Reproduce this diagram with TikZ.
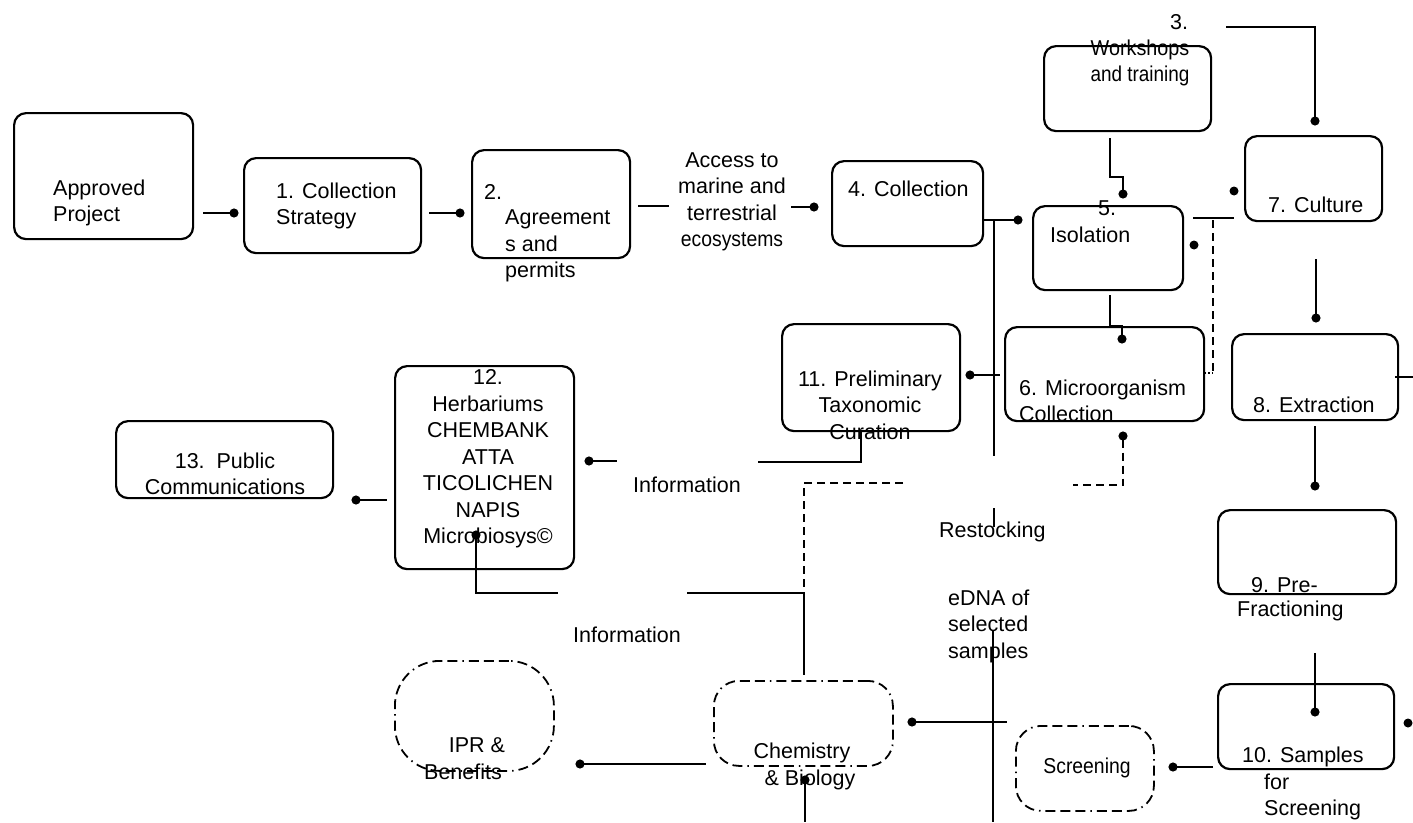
\documentclass[tikz,border=0pt]{standalone}
\usepackage{fontspec}
\setmainfont{Liberation Sans}
\usetikzlibrary{arrows.meta}
\begin{document}
\begin{tikzpicture}[x=1pt,y=-1pt,
  box/.style={draw, line width=2.2pt, rounded corners=12pt, anchor=north west, inner sep=0pt},
  dashbox/.style={draw, line width=1.8pt, anchor=north west, inner sep=0pt,
    dash pattern=on 10pt off 5pt on 10pt off 5pt on 10pt off 5pt on 1.5pt off 5pt},
  txt/.style={font=\fontsize{21.5}{26.5}\selectfont, inner sep=0pt, align=center},
  ltxt/.style={txt, align=left, anchor=west},
  conn/.style={line width=2pt},
  dconn/.style={line width=2pt, dash pattern=on 8pt off 5pt},
  dotend/.style={-{Circle[length=9pt,width=9pt]}, shorten >=-4.5pt},
  dotstart/.style={{Circle[length=9pt,width=9pt]}-, shorten <=-4.5pt},
  dotmark/.style={circle, fill, inner sep=0pt, minimum size=9pt}]
\useasboundingbox (0,0) rectangle (1413,822);
% boxes
\node[box, minimum width=179pt, minimum height=126pt] (ap) at (13,112) {};
\node[box, minimum width=177pt, minimum height=95pt] (cs) at (243,157) {};
\node[box, minimum width=158pt, minimum height=108pt] (ag) at (471,149) {};
\node[box, minimum width=151pt, minimum height=85pt] (col) at (831,160) {};
\node[box, minimum width=167pt, minimum height=85pt] (ws) at (1043,45) {};
\node[box, minimum width=150pt, minimum height=84pt] (iso) at (1032,205) {};
\node[box, minimum width=137pt, minimum height=85pt] (cul) at (1244,135) {};
\node[box, minimum width=199pt, minimum height=94pt] (mic) at (1004,326) {};
\node[box, minimum width=166pt, minimum height=86pt] (ext) at (1231,333) {};
\node[box, minimum width=178pt, minimum height=107pt] (tax) at (781,323) {};
\node[box, minimum width=179pt, minimum height=203pt] (her) at (394,365) {};
\node[box, minimum width=217pt, minimum height=77pt] (pub) at (115,420) {};
\node[box, minimum width=178pt, minimum height=84pt] (pre) at (1217,509) {};
\node[box, minimum width=176pt, minimum height=85pt] (sam) at (1217,683) {};
\node[dashbox, rounded corners=45pt, minimum width=159pt, minimum height=110pt] (ipr) at (394,660) {};
\node[dashbox, rounded corners=25pt, minimum width=179pt, minimum height=85pt] (chem) at (713,680) {};
\node[dashbox, rounded corners=25pt, minimum width=138pt, minimum height=85pt] (scr) at (1015,725) {};
% texts
\node[ltxt] (tap) at (53,203) {Approved\\Project};
\node[ltxt] (tcs) at (276,206) {1. Collection\\Strategy};
\node[ltxt] (tag1) at (484,192) {2.};
\node[ltxt] (tag2) at (505,246) {Agreement\\s and\\permits};
\node[txt] (tacc) at (732,202) {Access to\\marine and\\terrestrial\\\scalebox{0.9}[1]{ecosystems}};
\node[ltxt] (tcol) at (848,189) {4. Collection};
\node[txt] (tws1) at (1179,22) {3.};
\node[txt] (tws2) at (1140,63) {\scalebox{0.92}[1]{Workshops}\\\scalebox{0.88}[1]{and training}};
\node[txt] (tiso1) at (1107,208) {5.};
\node[ltxt] (tiso2) at (1050,235) {Isolation};
\node[ltxt] (tcul) at (1268,205) {7. Culture};
\node[ltxt] (tmic) at (1019,401) {6. Microorganism\\Collection};
\node[txt] (ttax) at (870,405) {11. Preliminary\\Taxonomic\\Curation};
\node[txt] (ther) at (488,459) {12.\\Herbariums\\CHEMBANK\\ATTA\\TICOLICHEN\\NAPIS\\Microbiosys©};
\node[txt] (tpub) at (225,474) {13.~~Public\\Communications};
\node[txt] (tinf1) at (687,485) {Information};
\node[txt] (tinf2) at (627,635) {Information};
\node[ltxt] (tres) at (939,532) {Restocking};
\node[ltxt] (tedna) at (948,626) {eDNA of\\selected\\samples};
\node[ltxt] (text) at (1253,405) {8. Extraction};
\node[ltxt] (tpre1) at (1251,585) {9. Pre-};
\node[ltxt] (tpre2) at (1237,611) {Fractioning};
\node[ltxt] (tsam1) at (1242,757) {10. Samples};
\node[ltxt] (tsam2) at (1264,797) {for\\Screening};
\node[txt] (tipr1) at (477,745) {IPR \&};
\node[txt] (tipr2) at (463,772) {Benefits};
\node[txt] (tchem1) at (802,753) {Chemistry};
\node[txt] (tchem2) at (810,780) {\& Biology};
\node[txt] (tscr) at (1087,768) {\scalebox{0.9}[1]{Screening}};
% connectors
\draw[conn,dotend] (203,213) -- (234,213);
\draw[conn,dotend] (429,213) -- (460,213);
\draw[conn] (638,206) -- (669,206);
\draw[conn,dotend] (791,207) -- (814,207);
\draw[conn,dotend] (982,220) -- (1018,220);
\draw[conn] (994,220) -- (994,456);
\draw[conn] (994,508) -- (994,527);
\draw[conn] (993,630) -- (993,822);
\draw[conn,dotstart] (912,722) -- (1007,722);
\draw[conn,dotstart] (970,375) -- (1000,375);
\draw[conn,dotend] (1110,138) -- (1110,177) -- (1123,177) -- (1123,194);
\draw[conn,dotend] (1110,295) -- (1110,326) -- (1122,326) -- (1122,339);
\draw[conn,dotend] (1226,27) -- (1315,27) -- (1315,121);
\node[dotmark] (d1) at (1234,191) {};
\draw[conn] (1193,218) -- (1234,218);
\node[dotmark] (d2) at (1194,245) {};
\draw[dconn] (1213,220) -- (1213,373);
\draw[line width=1.5pt, dash pattern=on 1.5pt off 2pt] (1213,373) -- (1205,373);
\draw[conn,dotend] (1316,259) -- (1316,318);
\draw[conn] (1395,377) -- (1413,377);
\draw[conn,dotend] (1315,426) -- (1315,486);
\draw[conn,dotend] (1315,653) -- (1315,712);
\node[dotmark] (d3) at (1408,723) {};
\draw[conn,dotend] (1213,767) -- (1173,767);
\draw[dconn,dotstart] (1123,436) -- (1123,485) -- (1073,485);
\draw[dconn] (903,483) -- (804,483) -- (804,593);
\draw[conn] (687,593) -- (804,593) -- (804,675);
\draw[conn,dotstart] (476,535) -- (476,593) -- (558,593);
\draw[conn,dotstart] (580,764) -- (706,764);
\draw[conn,dotstart] (805,780) -- (805,822);
\draw[conn,dotstart] (589,461) -- (617,461);
\draw[conn] (758,462) -- (861,462) -- (861,430);
\draw[conn,dotstart] (356,500) -- (387,500);
\end{tikzpicture}
\end{document}
